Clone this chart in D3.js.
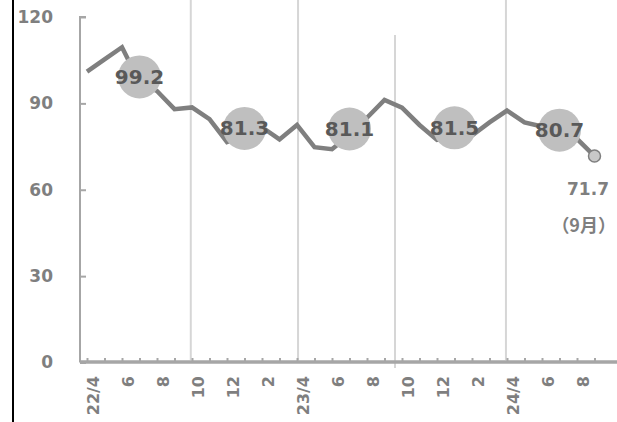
<!DOCTYPE html>
<html><head><meta charset="utf-8">
<script src="https://cdn.jsdelivr.net/npm/d3@7"></script>
<style>
html,body{margin:0;padding:0;background:#fff;}
svg{display:block;}
text{font-family:"DejaVu Sans","Noto Sans CJK JP",sans-serif;font-weight:bold;}
</style></head>
<body>
<script>
const months = ["22/4","22/5","22/6","22/7","22/8","22/9","22/10","22/11","22/12","23/1","23/2","23/3",
                "23/4","23/5","23/6","23/7","23/8","23/9","23/10","23/11","23/12","24/1","24/2","24/3",
                "24/4","24/5","24/6","24/7","24/8","24/9"];
const values = [101.0,105.3,109.5,97.3,94.3,88.0, 88.6,84.5,76.6,78.9,81.7,77.5,
                82.5,74.8,74.1,79.0,85.0,91.2, 88.5,82.5,77.3,78.5,78.8,83.4,
                87.5,83.4,82.0,81.9,77.7,71.7];
const tickLabels = ["22/4","6","8","10","12","2","23/4","6","8","10","12","2","24/4","6","8"];
const avgMonths = ["22/7","23/1","23/7","24/1","24/7"];
const avgValues = [99.2,81.3,81.1,81.5,80.7];
const avgLabels = ["99.2","81.3","81.1","81.5","80.7"];
const yTicks = [0,30,60,90,120];
const gridAt = [5.93,12.06,17.6,23.94];
const lastLabel = "71.7";
const lastNote = "（9月）";

const W=617,H=422;
const svg=d3.select("body").append("svg").attr("width",W).attr("height",H);

const xi=d3.scaleLinear().domain([0,months.length-1]).range([87,594.5]);
const x=d3.scalePoint().domain(months).range([87,594.5]);
const y=d3.scaleLinear().domain([0,120]).range([362.5,17]);

// left black border
svg.append("line").attr("x1",13).attr("x2",13).attr("y1",0).attr("y2",H).attr("stroke","#000").attr("stroke-width",2);

// vertical gridlines
svg.selectAll(".grid").data(gridAt).enter().append("line")
  .attr("x1",d=>xi(d)).attr("x2",d=>xi(d))
  .attr("y1",(d,i)=>i===2?35:0).attr("y2",(d,i)=>i===2?368:360)
  .attr("stroke","#d6d6d6").attr("stroke-width",2);

// y axis
const ya=svg.append("g").attr("transform","translate(80,0)")
  .call(d3.axisRight(y).tickValues(yTicks).tickSize(6).tickFormat(""));
ya.select(".domain").attr("stroke","#a6a6a6").attr("stroke-width",2).attr("d","M6,17H0V362.5");
ya.selectAll(".tick line").attr("stroke","#a6a6a6").attr("stroke-width",2);
svg.selectAll(".ylab").data(yTicks).enter().append("text")
  .attr("x",53).attr("y",d=>y(d)).attr("dy","0.35em").attr("text-anchor","end")
  .attr("fill","#7f7f7f").style("font-size","17px").text(d=>d);

// x axis
const xa=svg.append("g").attr("transform","translate(0,362)")
  .call(d3.axisTop(x).tickValues(months).tickSize(4).tickFormat(""));
xa.select(".domain").attr("stroke","#a6a6a6").attr("stroke-width",3.5).attr("d","M80,0H617");
xa.selectAll(".tick line").attr("stroke","#a6a6a6").attr("stroke-width",2);
svg.selectAll(".xlab").data(tickLabels).enter().append("text")
  .attr("transform",(d,i)=>`translate(${x(months[i*2])+6},376) rotate(-90)`)
  .attr("dy","0.35em").attr("text-anchor","end")
  .attr("fill","#7f7f7f").style("font-size","16px").text(d=>d);

// line
const line=d3.line().x((d,i)=>x(months[i])).y(d=>y(d));
svg.append("path").datum(values).attr("d",line).attr("fill","none")
  .attr("stroke","#7f7f7f").attr("stroke-width",4.5).attr("stroke-linejoin","miter");

// last point marker
const li=values.length-1;
svg.append("circle").attr("cx",x(months[li])).attr("cy",y(values[li])).attr("r",6)
  .attr("fill","#c8c8c8").attr("stroke","#7f7f7f").attr("stroke-width",1.5);

// average bubbles
const g=svg.selectAll(".avg").data(avgValues).enter().append("g");
g.append("circle").attr("cx",(d,i)=>x(avgMonths[i])).attr("cy",d=>y(d)).attr("r",21.5).attr("fill","#bfbfbf");
g.append("text").attr("x",(d,i)=>x(avgMonths[i])).attr("y",d=>y(d)).attr("dy","0.35em")
  .attr("text-anchor","middle").attr("fill","#595959").style("font-size","20px").text((d,i)=>avgLabels[i]);

// last labels
svg.append("text").attr("x",588).attr("y",189).attr("dy","0.35em").attr("text-anchor","middle")
  .attr("fill","#7f7f7f").style("font-size","17px").text(lastLabel);
svg.append("text").attr("x",616).attr("y",226).attr("dy","0.35em").attr("text-anchor","end")
  .attr("fill","#7f7f7f").style("font-size","18px").style("font-family","'Noto Sans CJK JP',sans-serif").text(lastNote);
</script>
</body></html>
